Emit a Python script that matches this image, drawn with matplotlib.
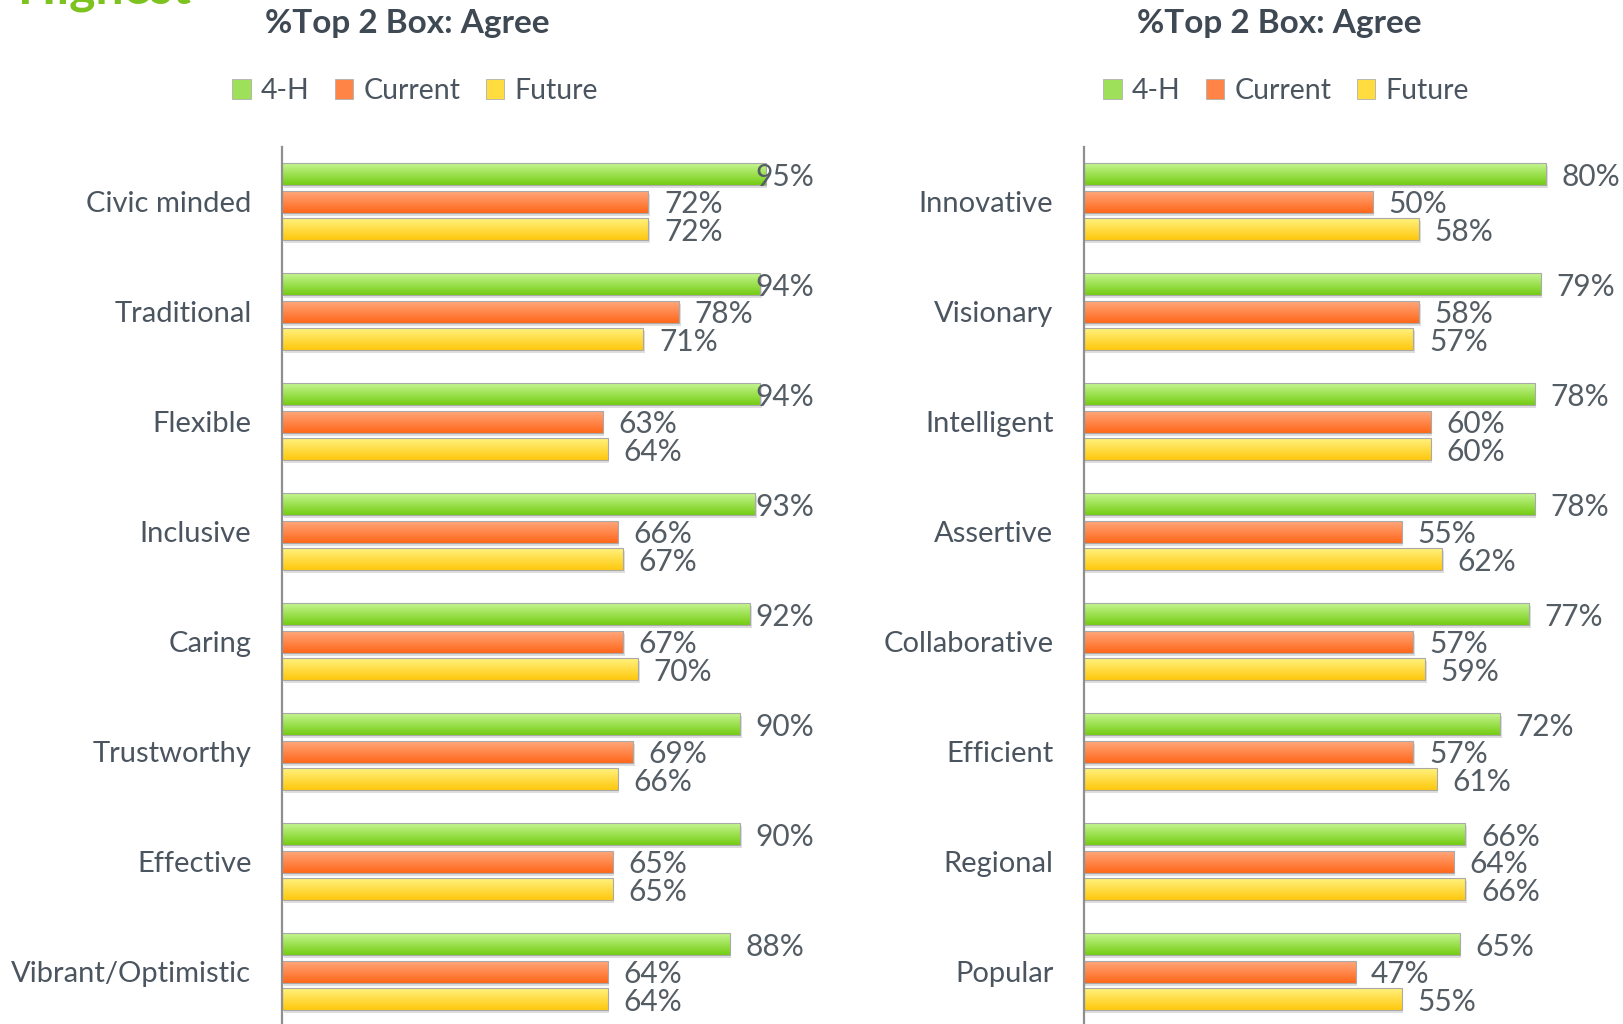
import numpy as np
import matplotlib
matplotlib.use("Agg")
import matplotlib.pyplot as plt
import matplotlib.transforms as mtransforms
from matplotlib.patches import Patch

plt.rcParams['font.family'] = ['Lato', 'DejaVu Sans']

# ---------------- data ----------------
series_names = ["4-H", "Current", "Future"]

left_categories = ["Civic minded", "Traditional", "Flexible", "Inclusive",
                   "Caring", "Trustworthy", "Effective", "Vibrant/Optimistic"]
left_4h = [95, 94, 94, 93, 92, 90, 90, 88]
left_current = [72, 78, 63, 66, 67, 69, 65, 64]
left_future = [72, 71, 64, 67, 70, 66, 65, 64]

right_categories = ["Innovative", "Visionary", "Intelligent", "Assertive",
                    "Collaborative", "Efficient", "Regional", "Popular"]
right_4h = [80, 79, 78, 78, 77, 72, 66, 65]
right_current = [50, 58, 60, 55, 57, 57, 64, 47]
right_future = [58, 57, 60, 62, 59, 61, 66, 55]

panel_title = "%Top 2 Box: Agree"
corner_text = "Highest"

# ---------------- style ----------------
W, H = 1624, 1024
DPI = 100
grad_colors = [("#c6f692", "#74cc12"),   # 4-H green
               ("#ffa77c", "#ff671a"),   # Current orange
               ("#fff27e", "#ffc80e")]   # Future yellow
legend_colors = ["#9ee05a", "#ff8446", "#ffdc40"]
text_color = "#4b5560"
value_color = "#545c64"
title_color = "#3e4954"
LABEL_FS = 21
VALUE_FS = 21.5

fig = plt.figure(figsize=(W / DPI, H / DPI), dpi=DPI)


def px(x0, y_top, w, h):
    return [x0 / W, 1 - (y_top + h) / H, w / W, h / H]


def draw_panel(ax, cats, vals, cap_px=None):
    n = len(cats)
    group_step = 4
    bar_h = 0.8
    centers = np.arange(n) * group_step
    shadow = mtransforms.offset_copy(ax.transData, fig=fig, x=1.5, y=-3, units='dots')
    for j, series in enumerate(vals):
        ypos = centers + j
        ax.barh(ypos, series, height=bar_h, color="#000000", alpha=0.13,
                transform=shadow, zorder=1, linewidth=0)
        bars = ax.barh(ypos, series, height=bar_h, facecolor="none",
                       edgecolor="#a9a9a9", linewidth=0.8, zorder=3)
        top_c, bot_c = grad_colors[j]
        cmap = matplotlib.colors.LinearSegmentedColormap.from_list("g", [top_c, bot_c])
        grad = np.linspace(0, 1, 64).reshape(-1, 1)
        for rect, v, y in zip(bars.patches, series, ypos):
            im = ax.imshow(grad, cmap=cmap, aspect='auto', origin='upper',
                           extent=(0, v, y + bar_h / 2, y - bar_h / 2),
                           zorder=2, interpolation='bilinear')
            im.set_clip_path(rect)
    ax.set_xlim(0, 100)
    ax.set_ylim(n * group_step - 1.1, -1.0)
    fig.canvas.draw()
    renderer = fig.canvas.get_renderer()
    # value labels
    for j, series in enumerate(vals):
        for i, v in enumerate(series):
            y = centers[i] + j
            xpix, ypix = ax.transData.transform((v, y))
            xpix += 15.5
            ypix -= 2.5
            t = fig.text(xpix / W, ypix / H, f"{v}%", fontsize=VALUE_FS, color=value_color,
                         va='center', ha='left', zorder=5)
            if cap_px is not None:
                bb = t.get_window_extent(renderer)
                if bb.x1 > cap_px:
                    t.set_x((xpix - (bb.x1 - cap_px)) / W)
    ax.set_yticks(centers + 1)
    ax.set_yticklabels(cats, fontsize=LABEL_FS, color=text_color)
    ax.set_xticks([])
    ax.tick_params(axis='y', length=0, pad=22)
    for s in ['top', 'right', 'bottom']:
        ax.spines[s].set_visible(False)
    ax.spines['left'].set_color("#8f8f8f")
    ax.spines['left'].set_linewidth(1.6)
    ax.spines['left'].set_zorder(6)
    ax.set_facecolor("none")


axL = fig.add_axes(px(282, 147, 509, 877))
axR = fig.add_axes(px(1084, 147, 578, 877))

draw_panel(axL, left_categories, [left_4h, left_current, left_future], cap_px=814)
draw_panel(axR, right_categories, [right_4h, right_current, right_future])

# titles
fig.text(407 / W, 1 - 23 / H, panel_title, fontsize=24, fontweight='bold',
         color=title_color, ha='center', va='center')
fig.text(1279 / W, 1 - 23 / H, panel_title, fontsize=24, fontweight='bold',
         color=title_color, ha='center', va='center')

# legends
handles = [Patch(facecolor=c, edgecolor="#b0b0b0", linewidth=0.6) for c in legend_colors]
for cx in (415, 1286):
    fig.legend(handles, series_names, loc='center', bbox_to_anchor=(cx / W, 1 - 91 / H),
               ncol=3, frameon=False, fontsize=20.5, handlelength=0.65, handleheight=0.65,
               handletextpad=0.35, columnspacing=0.9, labelcolor=text_color)

# cut-off corner text
fig.text(18 / W, 1 - 3 / H, corner_text, fontsize=36, fontweight='bold',
         color="#7dc31f", ha='left', va='baseline')

fig.savefig("out.png", dpi=DPI)
